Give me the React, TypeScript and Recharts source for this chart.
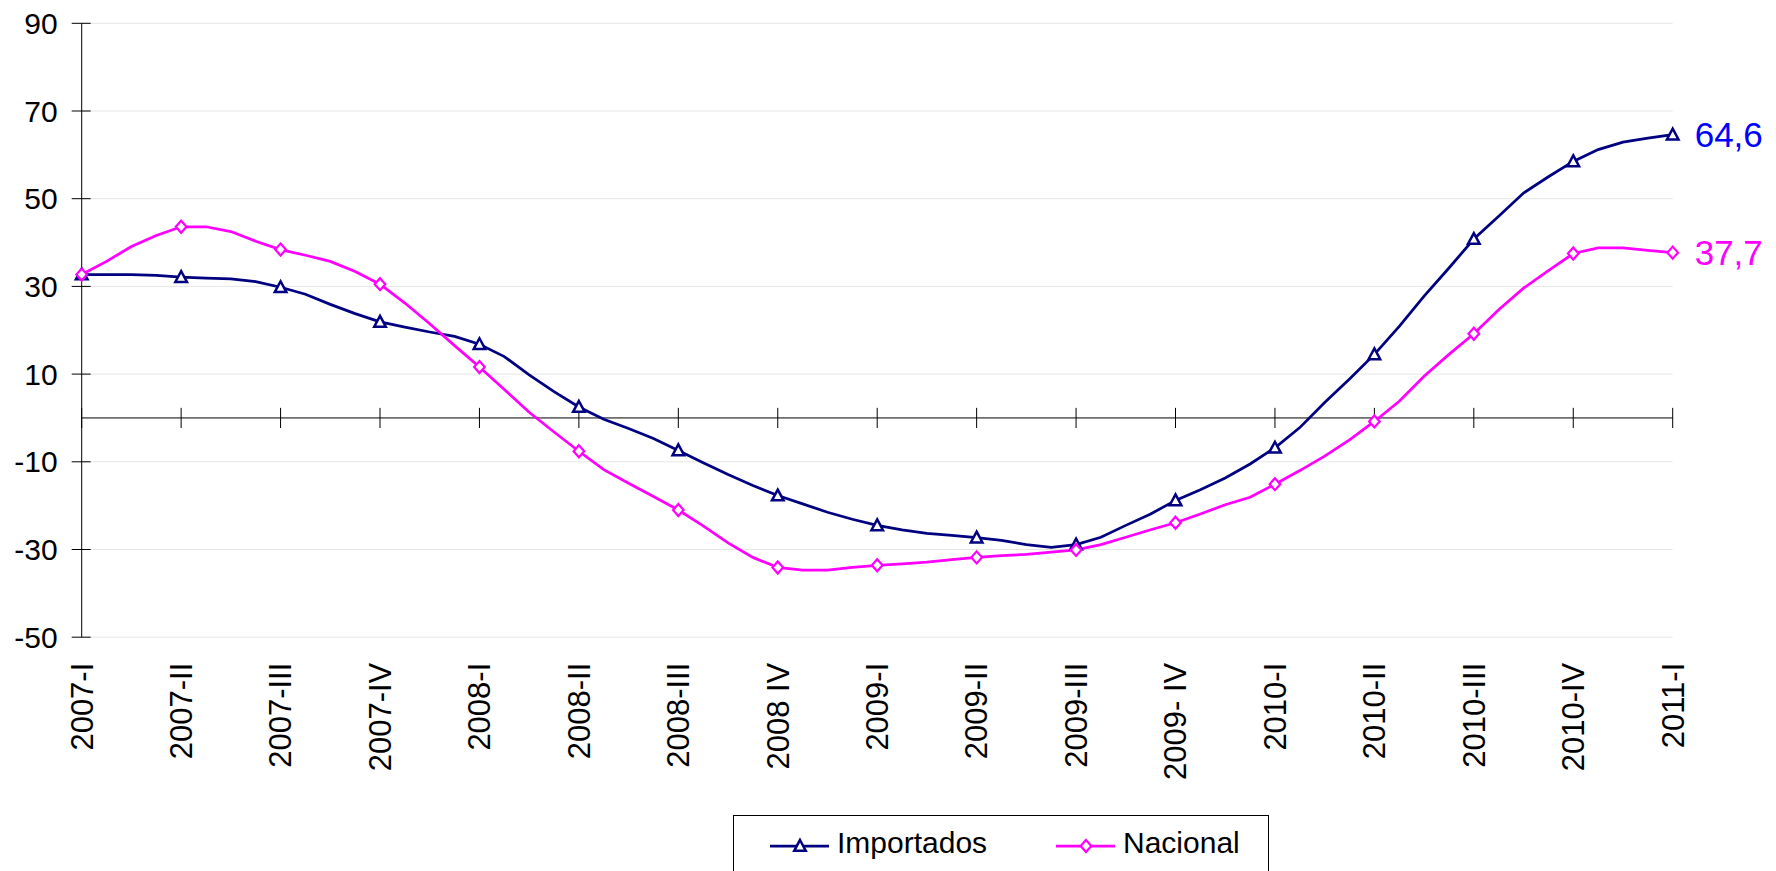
import { LineChart, Line, XAxis, YAxis, CartesianGrid, ReferenceLine, LabelList } from 'recharts'

// quarter labels, one every 4 points on the x axis
const quarterLabels = [
  '2007-I', '2007-II', '2007-III', '2007-IV',
  '2008-I', '2008-II', '2008-III', '2008 IV',
  '2009-I', '2009-II', '2009-III', '2009- IV',
  '2010-I', '2010-II', '2010-III', '2010-IV',
  '2011-I',
]

const importados = [
  32.7, 32.7, 32.7, 32.5,
  32.1, 31.9, 31.7, 31.1,
  29.8, 28.2, 25.9, 23.8,
  21.9, 20.7, 19.6, 18.6,
  16.8, 14.0, 9.8, 6.0,
  2.5, -0.3, -2.4, -4.7,
  -7.4, -10.2, -12.9, -15.4,
  -17.7, -19.6, -21.5, -23.1,
  -24.5, -25.5, -26.3, -26.8,
  -27.3, -27.9, -28.9, -29.5,
  -28.9, -27.2, -24.5, -21.9,
  -18.8, -16.4, -13.7, -10.5,
  -6.8, -2.2, 3.5, 8.9,
  14.5, 20.9, 27.8, 34.2,
  40.8, 46.0, 51.3, 55.0,
  58.5, 61.2, 62.9, 63.8,
  64.6,
]

const nacional = [
  32.7, 35.7, 39.1, 41.6,
  43.6, 43.6, 42.5, 40.3,
  38.4, 37.1, 35.7, 33.4,
  30.5, 26.2, 21.5, 16.5,
  11.6, 6.5, 1.3, -3.2,
  -7.6, -11.8, -14.9, -17.9,
  -21.0, -24.6, -28.5, -31.8,
  -34.1, -34.7, -34.7, -34.1,
  -33.6, -33.3, -32.9, -32.3,
  -31.8, -31.4, -31.1, -30.6,
  -30.1, -28.9, -27.2, -25.5,
  -23.9, -21.9, -19.8, -18.1,
  -15.1, -12.0, -8.7, -5.0,
  -0.8, 3.8, 9.5, 14.5,
  19.2, 24.7, 29.6, 33.6,
  37.5, 38.8, 38.8, 38.2,
  37.7,
]

const yTicks = [-50, -30, -10, 10, 30, 50, 70, 90]

const NAVY = '#000080'
const MAGENTA = '#FF00FF'
const FONT = '"Liberation Sans", Arial, Helvetica, sans-serif'

const data = importados.map((v, i) => ({ idx: i, importados: v, nacional: nacional[i] }))
const quarterIdx = quarterLabels.map((_, i) => i * 4)
const lastIdx = data.length - 1

function Triangle({ cx, cy, color }: any) {
  return (
    <polygon
      points={`${cx},${cy - 6} ${cx + 5.8},${cy + 4.8} ${cx - 5.8},${cy + 4.8}`}
      fill="#fff"
      stroke={color}
      strokeWidth={2.5}
    />
  )
}

function Diamond({ cx, cy, color }: any) {
  return (
    <polygon
      points={`${cx},${cy - 6} ${cx + 5.3},${cy} ${cx},${cy + 6} ${cx - 5.3},${cy}`}
      fill="#fff"
      stroke={color}
      strokeWidth={2.2}
    />
  )
}

const series = [
  { key: 'importados', name: 'Importados', color: NAVY, labelColor: '#0000FF', Marker: Triangle, legendX: 36 },
  { key: 'nacional', name: 'Nacional', color: MAGENTA, labelColor: MAGENTA, Marker: Diamond, legendX: 322 },
]

// markers only on the quarter points
const makeDot = (Marker: any, color: string) => (props: any) => {
  const { cx, cy, index } = props
  if (index % 4 !== 0) return <g key={`d${index}`} />
  return <Marker key={`d${index}`} cx={cx} cy={cy} color={color} />
}

const makeEndLabel = (color: string) => (props: any) => {
  const { x, y, value, index } = props
  if (index !== lastIdx) return null
  return (
    <text x={x + 22} y={y} dy="0.35em" fill={color} fontSize={35} fontFamily={FONT}>
      {String(value).replace('.', ',')}
    </text>
  )
}

function YTick({ x, y, payload }: any) {
  return (
    <g>
      <line x1={x - 10} x2={x + 9} y1={y} y2={y} stroke="#000" />
      <text x={x - 24} y={y} dy="0.35em" textAnchor="end" fontSize={30} fontFamily={FONT} fill="#000">
        {payload.value}
      </text>
    </g>
  )
}

function XTick({ x, y, payload }: any) {
  const label = quarterLabels[payload.value / 4]
  const ty = y + 25.5
  return (
    <text
      x={x}
      y={ty}
      dy="0.35em"
      transform={`rotate(-90, ${x}, ${ty})`}
      textAnchor="end"
      fontSize={31}
      fontFamily={FONT}
      fill="#000"
    >
      {label}
    </text>
  )
}

export default function App() {
  return (
    <div style={{ position: 'absolute', left: 0, top: 0, width: 1776, height: 871, overflow: 'hidden', background: '#fff' }}>
      <LineChart width={1776} height={871} data={data} margin={{ top: 23.3, right: 103.3, bottom: 0, left: 0 }}>
        <CartesianGrid vertical={false} stroke="#e6e6e6" />
        <XAxis
          dataKey="idx"
          type="number"
          domain={[0, lastIdx]}
          ticks={quarterIdx}
          interval={0}
          height={233.8}
          axisLine={false}
          tickLine={false}
          tickSize={0}
          tickMargin={0}
          tick={<XTick />}
        />
        <YAxis
          domain={[-50, 90]}
          ticks={yTicks}
          width={81.7}
          axisLine={{ stroke: '#000' }}
          tickLine={false}
          tickSize={0}
          tickMargin={0}
          tick={<YTick />}
        />
        <ReferenceLine y={0} stroke="#000" />
        {quarterIdx.map((q) => (
          <ReferenceLine
            key={q}
            segment={[{ x: q, y: -2.3 }, { x: q, y: 2.3 }]}
            stroke="#000"
          />
        ))}
        {series.map((s) => (
          <Line
            key={s.key}
            type="linear"
            dataKey={s.key}
            name={s.name}
            stroke={s.color}
            strokeWidth={2.75}
            dot={makeDot(s.Marker, s.color)}
            activeDot={false}
            isAnimationActive={false}
          >
            <LabelList dataKey={s.key} content={makeEndLabel(s.labelColor)} />
          </Line>
        ))}
      </LineChart>

      {/* legend box, cut by the bottom edge like in the original */}
      <div style={{ position: 'absolute', left: 733, top: 815, width: 534, height: 80, border: '1px solid #000', background: '#fff' }}>
        <svg width={534} height={80} style={{ position: 'absolute', left: 0, top: 0 }}>
          {series.map((s) => (
            <g key={s.key}>
              <line x1={s.legendX} x2={s.legendX + 59} y1={30} y2={30} stroke={s.color} strokeWidth={2.75} />
              <s.Marker cx={s.legendX + 30} cy={30} color={s.color} />
              <text x={s.legendX + 67} y={37} fontSize={30} fontFamily={FONT} fill="#000">
                {s.name}
              </text>
            </g>
          ))}
        </svg>
      </div>
    </div>
  )
}
